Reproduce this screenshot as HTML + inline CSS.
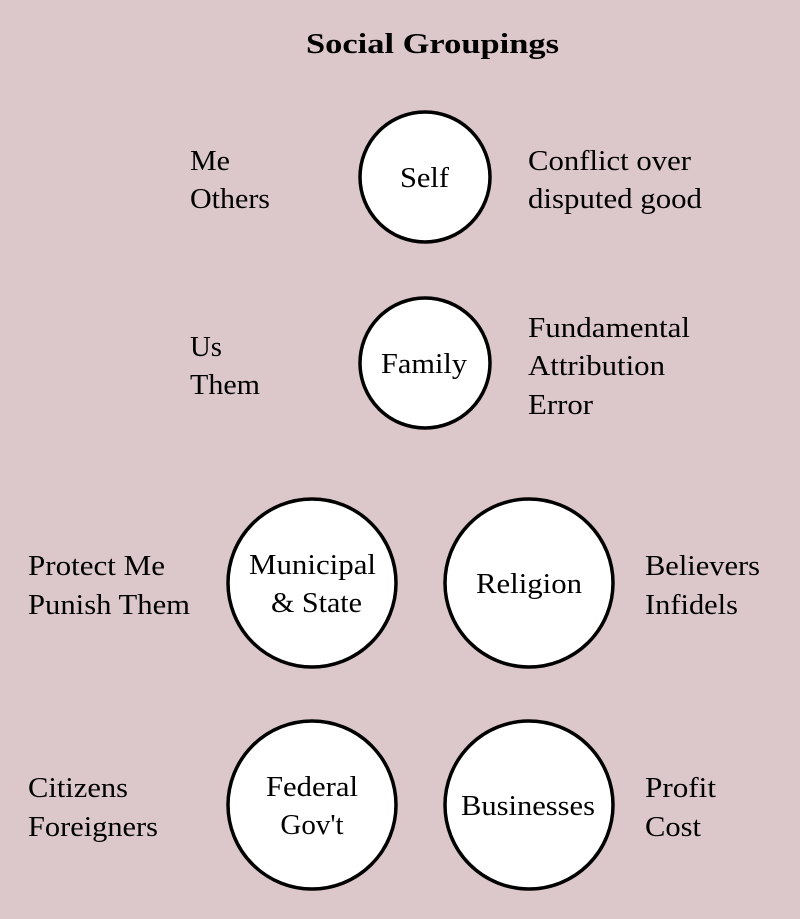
<!DOCTYPE html>
<html><head><meta charset="utf-8"><style>
html,body{margin:0;padding:0;background:#dcc8cb;}
svg{display:block}
text{font-family:"Liberation Serif",serif;font-size:29px;fill:#000}
</style></head><body>
<svg width="800" height="919" viewBox="0 0 800 919">
<rect width="800" height="919" fill="#dcc8cb"/>
<text x="306" y="53" font-weight="bold" font-size="30" textLength="253" lengthAdjust="spacingAndGlyphs">Social Groupings</text>
<g fill="#fff" stroke="#000" stroke-width="3.5">
<circle cx="425" cy="177" r="65"/>
<circle cx="425" cy="363" r="65"/>
<circle cx="312" cy="583" r="84"/>
<circle cx="529" cy="583" r="84"/>
<circle cx="312" cy="805" r="84"/>
<circle cx="529" cy="805" r="84"/>
</g>
<g>
<text x="400" y="187" textLength="49" lengthAdjust="spacingAndGlyphs">Self</text>
<text x="381" y="373" textLength="86" lengthAdjust="spacingAndGlyphs">Family</text>
<text x="249" y="574" textLength="127" lengthAdjust="spacingAndGlyphs">Municipal</text>
<text x="271" y="612" textLength="91" lengthAdjust="spacingAndGlyphs">&amp; State</text>
<text x="476" y="593" textLength="106" lengthAdjust="spacingAndGlyphs">Religion</text>
<text x="266" y="796" textLength="92" lengthAdjust="spacingAndGlyphs">Federal</text>
<text x="312" y="834" text-anchor="middle">Gov't</text>
<text x="461" y="815" textLength="134" lengthAdjust="spacingAndGlyphs">Businesses</text>
<text x="190" y="170" textLength="40" lengthAdjust="spacingAndGlyphs">Me</text>
<text x="190" y="208" textLength="80" lengthAdjust="spacingAndGlyphs">Others</text>
<text x="528" y="170" textLength="163" lengthAdjust="spacingAndGlyphs">Conflict over</text>
<text x="528" y="208" textLength="174" lengthAdjust="spacingAndGlyphs">disputed good</text>
<text x="190" y="356" textLength="32" lengthAdjust="spacingAndGlyphs">Us</text>
<text x="190" y="394" textLength="70" lengthAdjust="spacingAndGlyphs">Them</text>
<text x="528" y="337" textLength="162" lengthAdjust="spacingAndGlyphs">Fundamental</text>
<text x="528" y="375" textLength="137" lengthAdjust="spacingAndGlyphs">Attribution</text>
<text x="528" y="414" textLength="65" lengthAdjust="spacingAndGlyphs">Error</text>
<text x="28" y="575" textLength="137" lengthAdjust="spacingAndGlyphs">Protect Me</text>
<text x="28" y="614" textLength="162" lengthAdjust="spacingAndGlyphs">Punish Them</text>
<text x="645" y="575" textLength="115" lengthAdjust="spacingAndGlyphs">Believers</text>
<text x="645" y="614" textLength="93" lengthAdjust="spacingAndGlyphs">Infidels</text>
<text x="28" y="797" textLength="100" lengthAdjust="spacingAndGlyphs">Citizens</text>
<text x="28" y="836" textLength="130" lengthAdjust="spacingAndGlyphs">Foreigners</text>
<text x="645" y="797" textLength="71" lengthAdjust="spacingAndGlyphs">Profit</text>
<text x="645" y="836" textLength="56" lengthAdjust="spacingAndGlyphs">Cost</text>
</g>
</svg>
</body></html>
